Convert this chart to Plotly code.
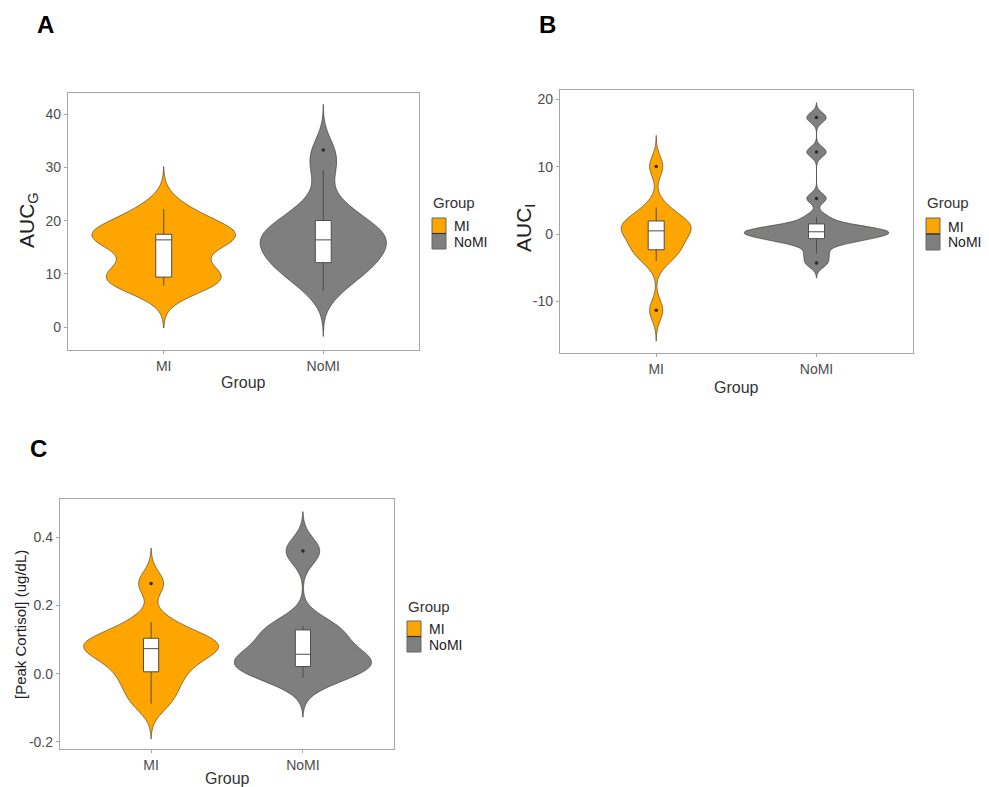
import numpy as np
import plotly.graph_objects as go

# ---- data -------------------------------------------------------------
groups = ["MI", "NoMI"]

# AUC with respect to ground (AUC_G)
auc_g_mi = [7.8, 8.6, 9.2, 9.6, 11.6, 15.9, 16.9, 17.0, 17.2, 17.7, 20.0, 22.2]
auc_g_nomi = [6.8, 9.2, 10.8, 11.7, 12.26, 13.6, 14.7, 15.6, 16.4, 17.0, 17.7, 18.6,
              19.65, 21.2, 23.5, 29.5, 33.3]

# AUC with respect to increase (AUC_I)
auc_i_mi = [-11.3, -3.96, -2.6, -2.04, -1.0, 0.2, 0.78, 1.2, 1.6, 2.32, 3.95, 10.05]
auc_i_nomi = [-4.3, -2.9, -1.4, -0.9, -0.59, -0.3, -0.05, 0.15, 0.35, 0.5, 0.7,
              0.95, 1.19, 2.5, 5.3, 12.2, 17.3]

# Peak cortisol concentration (ug/dL)
peak_mi = [-0.088, -0.045, -0.01, 0.021, 0.045, 0.066, 0.081, 0.088, 0.094, 0.114, 0.152, 0.265]
peak_nomi = [-0.012, 0.012, 0.03, 0.045, 0.069, 0.117, 0.14, 0.36]

auc_g_tickvals = [0, 10, 20, 30, 40]
auc_g_ticktext = ["0", "10", "20", "30", "40"]
auc_i_tickvals = [-10, 0, 10, 20]
auc_i_ticktext = ["-10", "0", "10", "20"]
peak_tickvals = [-0.2, 0.0, 0.2, 0.4]
peak_ticktext = ["-0.2", "0.0", "0.2", "0.4"]

# ---- styling ----------------------------------------------------------
W, H = 989, 787
FONT = "Liberation Sans, Arial, sans-serif"
FILL = {"MI": "#FFA500", "NoMI": "#7F7F7F"}
FRAME = "#a6a6a6"
TICKFONT = dict(family=FONT, size=14, color="#4d4d4d")
TITLEFONT = dict(family=FONT, size=16, color="#333333")
MAX_WIDTH = 0.9      # width of the widest violin in a panel (data units)
BOX_WIDTH = 0.1      # width of the inner box plot (data units)


def fx(x):
    return x / W


def fy(y):
    return 1 - y / H


def kde_peak(vals, bw):
    """Peak height of a Gaussian kernel density estimate (span: 3 bandwidths)."""
    v = np.asarray(vals, dtype=float)
    grid = np.linspace(v.min() - 3 * bw, v.max() + 3 * bw, 1024)
    dens = np.exp(-0.5 * ((grid[:, None] - v[None, :]) / bw) ** 2).sum(axis=1)
    return (dens / (len(v) * bw * np.sqrt(2 * np.pi))).max()


panels = [
    dict(tag="A", values={"MI": auc_g_mi, "NoMI": auc_g_nomi},
         bw={"MI": 2.65, "NoMI": 2.85},
         frame=(68, 93, 419, 350), yrange=[-4.3, 44],
         tickvals=auc_g_tickvals, ticktext=auc_g_ticktext,
         ytitle="AUC<sub>G</sub>", ytitle_pos=(28, 220), ytitle_size=21,
         xtitle_y=383, label_pos=(45, 25),
         legend=dict(title=(432, 202), key=(432, 218, 14, 15.5), text_x=454)),
    dict(tag="B", values={"MI": auc_i_mi, "NoMI": auc_i_nomi},
         bw={"MI": 1.53, "NoMI": 0.74},
         frame=(560, 90, 912.7, 352.7), yrange=[-17.6, 21.4],
         tickvals=auc_i_tickvals, ticktext=auc_i_ticktext,
         ytitle="AUC<sub>I</sub>", ytitle_pos=(525, 228), ytitle_size=21,
         xtitle_y=387, label_pos=(547, 25),
         legend=dict(title=(926, 202), key=(926, 218, 14, 16), text_x=948)),
    dict(tag="C", values={"MI": peak_mi, "NoMI": peak_nomi},
         bw={"MI": 0.0345, "NoMI": 0.0385},
         frame=(60, 499.3, 394, 749.3), yrange=[-0.222, 0.512],
         tickvals=peak_tickvals, ticktext=peak_ticktext,
         ytitle="[Peak Cortisol] (ug/dL)", ytitle_pos=(20, 625), ytitle_size=15,
         xtitle_y=778, label_pos=(38, 448),
         legend=dict(title=(407, 606), key=(407, 621, 14, 15.5), text_x=429)),
]

fig = go.Figure()
annotations = []
shapes = []

for i, p in enumerate(panels, start=1):
    suffix = "" if i == 1 else str(i)
    xref, yref = "x" + suffix, "y" + suffix

    # equal-area scaling: violin width proportional to its density peak
    peaks = {g: kde_peak(p["values"][g], p["bw"][g]) for g in groups}
    top_peak = max(peaks.values())

    for g in groups:
        vals = p["values"][g]
        bw = p["bw"][g]
        vw = MAX_WIDTH * peaks[g] / top_peak
        fig.add_trace(go.Violin(
            x=[g] * len(vals), y=vals, name=g,
            xaxis=xref, yaxis=yref,
            bandwidth=bw, spanmode="manual",
            span=[min(vals) - 3 * bw, max(vals) + 3 * bw],
            scalegroup=p["tag"] + g, scalemode="width", width=vw,
            fillcolor=FILL[g], opacity=1,
            line=dict(color="rgba(40,30,20,0.65)", width=0.8),
            box=dict(visible=True, width=BOX_WIDTH / vw, fillcolor="white",
                     line=dict(color="#4d4d4d", width=1)),
            meanline=dict(visible=False),
            points="outliers", pointpos=0, jitter=0,
            marker=dict(color="#2b2b2b", size=3.5, line=dict(width=0)),
            showlegend=False, hoverinfo="skip",
        ))

    x0, y0, x1, y1 = p["frame"]
    axis_common = dict(showline=True, mirror=True, linecolor=FRAME, linewidth=1.3,
                       showgrid=False, zeroline=False, ticks="outside", ticklen=3,
                       tickcolor=FRAME, tickwidth=1, tickfont=TICKFONT)
    fig.layout["xaxis" + suffix] = dict(
        domain=[fx(x0), fx(x1)], anchor=yref, type="category",
        categoryorder="array", categoryarray=groups, range=[-0.6, 1.6],
        **axis_common)
    fig.layout["yaxis" + suffix] = dict(
        domain=[fy(y1), fy(y0)], anchor=xref, range=p["yrange"],
        tickmode="array", tickvals=p["tickvals"], ticktext=p["ticktext"],
        **axis_common)

    # panel letter
    lx, ly = p["label_pos"]
    annotations.append(dict(text="<b>%s</b>" % p["tag"], x=fx(lx), y=fy(ly),
                            xref="paper", yref="paper", showarrow=False,
                            xanchor="center", yanchor="middle",
                            font=dict(family=FONT, size=24, color="black")))
    # y title
    tx, ty = p["ytitle_pos"]
    annotations.append(dict(text=p["ytitle"], x=fx(tx), y=fy(ty), xref="paper", yref="paper",
                            showarrow=False, textangle=-90, xanchor="center", yanchor="middle",
                            font=dict(family=FONT, size=p["ytitle_size"], color="#222222")))
    # x title
    annotations.append(dict(text="Group", x=fx((x0 + x1) / 2), y=fy(p["xtitle_y"]),
                            xref="paper", yref="paper", showarrow=False,
                            xanchor="center", yanchor="middle", font=TITLEFONT))
    # legend
    lg = p["legend"]
    gx, gy = lg["title"]
    annotations.append(dict(text="Group", x=fx(gx - 1), y=fy(gy), xref="paper", yref="paper",
                            showarrow=False, xanchor="left", yanchor="middle",
                            font=dict(family=FONT, size=15, color="#333333")))
    kx, ky, kw, kh = lg["key"]
    for j, g in enumerate(groups):
        top = ky + j * kh
        shapes.append(dict(type="rect", xref="paper", yref="paper",
                           x0=fx(kx), x1=fx(kx + kw), y0=fy(top + kh), y1=fy(top),
                           fillcolor=FILL[g], line=dict(color="#666666", width=1)))
        annotations.append(dict(text=g, x=fx(lg["text_x"] - 1), y=fy(top + kh / 2 + 0.5),
                                xref="paper", yref="paper", showarrow=False,
                                xanchor="left", yanchor="middle", borderpad=0,
                                font=dict(family=FONT, size=14, color="#222222")))
    # separator line between the two key swatches
    shapes.append(dict(type="line", xref="paper", yref="paper",
                       x0=fx(kx), x1=fx(kx + kw), y0=fy(ky + kh), y1=fy(ky + kh),
                       line=dict(color="#333333", width=1.2)))

fig.update_layout(
    width=W, height=H, margin=dict(l=0, r=0, t=0, b=0),
    paper_bgcolor="white", plot_bgcolor="white",
    violinmode="overlay", violingap=0, violingroupgap=0,
    annotations=annotations, shapes=shapes,
    font=dict(family=FONT),
)

fig.write_html("out.html")
